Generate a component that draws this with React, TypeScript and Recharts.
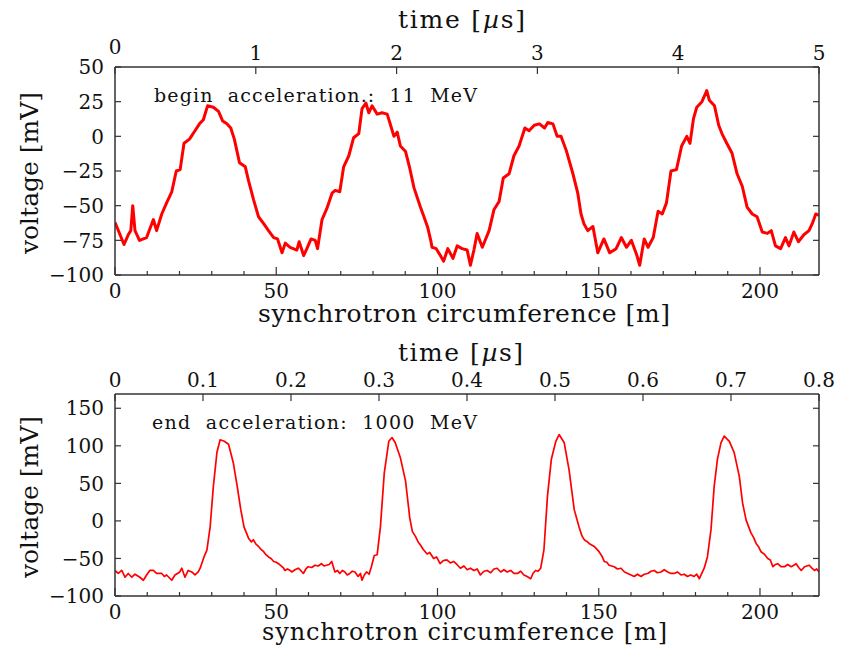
import { LineChart, Line, XAxis, YAxis } from 'recharts';

// begin of acceleration, 11 MeV (position along ring [m], signal [mV])
const BEGIN_M = [
  0, 2.8, 4.1, 4.9, 5.5, 6.2, 7.6, 9.8, 11.9, 12.9, 14.5, 16, 17.6, 19, 20.2, 21.4, 23.1,
  24.8, 26.2, 27.4, 28.7, 30.5, 32.1, 33.4, 34.7, 35.9, 37, 38.6, 40.4, 41.4, 43, 44.5,
  46.1, 47.6, 49.2, 50.4, 51.8, 52.8, 54.3, 56.4, 57.1, 58.5, 59.5, 60.8, 62.1, 62.8,
  64.2, 65.7, 67.3, 68.3, 69.7, 70.9, 72.5, 74, 75.6, 76.6, 77.8, 78.7, 79.7, 81.3, 82.8,
  84.4, 85.2, 86.5, 87.5, 88.5, 90.1, 91.4, 92.7, 94.7, 95.8, 97, 97.9, 98.3, 99.6, 100.9,
  101.9, 103.2, 104.8, 106.1, 107.6, 109.2, 110.2, 111.3, 112.3, 113.9, 116, 117.5,
  119.1, 120.4, 122.2, 123.7, 125.3, 127.1, 128.4, 130, 131.6, 133.2, 134.2, 135.8,
  137.1, 138.3, 139.9, 142, 143.5, 144.5, 145.4, 146.6, 148.2, 149.7, 151.6, 153.4,
  155.4, 157, 158.6, 160.1, 161.7, 162.7, 164.1, 165.3, 166.9, 168.4, 169.7, 171, 172.4,
  174.1, 175.7, 177.3, 178.3, 179.4, 180.4, 182, 183.5, 184.3, 185.9, 187.2, 188.2,
  189.7, 191.3, 192.9, 194.5, 196, 197.6, 199.1, 200.7, 202.3, 203.5, 204.8, 206.4,
  207.9, 209, 210.5, 211.9, 213.6, 215.2, 216.2, 217.3, 218.3,
];
const BEGIN_MV = [
  -62, -78, -71, -68, -50, -68, -75, -73, -60, -68, -56, -48, -40, -25, -24, -5, -2,
  4, 9, 12, 22, 21, 18, 11, 9, 6, -2, -19, -22, -32, -46, -58,
  -63, -68, -73, -74, -84, -77, -80, -82, -76, -86, -81, -74, -75, -81,
  -60, -52, -41, -39, -40, -22, -14, -1, 2, 20, 24, 17, 22, 16, 17,
  16, 10, 0, 3, -7, -11, -23, -37, -51, -58, -66, -75, -80, -81, -86,
  -90, -81, -88, -79, -81, -82, -93, -82, -70, -80, -68, -53,
  -47, -30, -27, -14, -7, 6, 4, 8, 9, 6, 10, 9,
  0, 0, -10, -27, -41, -56, -63, -68, -65, -84, -74, -84,
  -81, -73, -80, -75, -85, -93, -74, -80, -73, -54, -56, -48, -25,
  -24, -7, 0, -5, 13, 21, 25, 33, 26, 22, 8, 2,
  -5, -12, -27, -36, -51, -56, -58, -69, -70, -68, -79, -81,
  -73, -79, -69, -76, -71, -68, -63, -56, -57,
];

// end of acceleration, 1000 MeV
const END_M = [
  0, 1, 2.1, 3.1, 4.1, 5.2, 6.2, 7.7, 8.8, 9.8, 10.8, 11.9, 12.9, 14.5, 15.3, 16, 17.6,
  18.6, 20.1, 20.7, 21.7, 22.7, 23.8, 24.8, 25.8, 26.4, 27.6, 28.5, 29.5, 30.5, 31.6,
  32.6, 33.9, 35.2, 36.7, 37.9, 39, 40, 41.4, 42.3, 42.9, 43.7, 44.5, 45.3, 46.1, 46.8,
  47.6, 48.4, 49.2, 50, 50.7, 51.5, 52.3, 52.7, 53.5, 54.3, 54.8, 55.8, 56.8, 57.6, 58.4,
  59.2, 59.9, 61, 62, 63, 64, 64.8, 65.6, 66.4, 67.2, 68.2, 69, 69.7, 70.5, 71.3, 72,
  72.8, 73.6, 74.4, 75.4, 76.1, 76.6, 77.3, 78, 78.8, 79.5, 80.4, 81.3, 82.3, 83.5, 84.9,
  85.9, 86.9, 88.5, 90.1, 91.4, 92.2, 93.2, 94, 94.7, 95.6, 96.8, 97.6, 98.8, 99.7, 100.8,
  101.8, 102.9, 104, 105, 106, 107.1, 108.2, 109.2, 110.2, 111.3, 112.3, 113.3, 114.4,
  115.4, 116.5, 117.5, 118.5, 119.6, 120.6, 121.6, 122.7, 123.7, 124.8, 125.8, 126.8,
  127.8, 128.9, 129.6, 130.4, 131.2, 132, 133, 134.1, 135.3, 136.7, 137.7, 139.3, 140.8,
  142.4, 143.9, 144.8, 145.5, 146.2, 147, 148.6, 150.1, 151, 151.7, 152.5, 153.2, 154.8,
  155.8, 156.9, 158, 159, 160, 161, 162, 163.1, 164.1, 165.2, 166.2, 167.2, 168.2, 169.3,
  170.3, 171.4, 172.4, 173.4, 174.4, 175.5, 176.5, 177.5, 178.5, 179.6, 180.4, 181.2,
  182.7, 183.7, 184.8, 185.8, 186.8, 187.9, 188.9, 190.5, 192, 193.6, 194.6, 195.7, 197.2,
  198, 198.8, 199.5, 200.3, 201.3, 202.4, 203.2, 204, 204.8, 205.5, 206.5, 207.6, 208.6,
  209.7, 210.5, 211.2, 212, 212.8, 213.8, 215.3, 216.1, 216.9, 217.6, 218.3,
];
const END_MV = [
  -66, -70, -66, -75, -70, -75, -71, -75, -79, -72, -66, -66, -70, -70, -74, -72, -79,
  -72, -68, -63, -75, -66, -68, -72, -68, -63, -48, -39, -8, 46, 91,
  108, 106, 102, 77, 46, 15, -8, -23, -28, -25, -31, -34, -38, -41, -45,
  -48, -50, -54, -55, -57, -60, -63, -66, -64, -66, -68, -65, -63, -66, -70,
  -64, -61, -62, -59, -60, -57, -60, -59, -58, -54, -68, -66, -70, -66, -68, -72,
  -70, -67, -68, -74, -70, -79, -72, -68, -71, -61, -46, -45, -8, 64, 106,
  111, 104, 84, 53, 4, -14, -21, -28, -32, -38, -44, -42, -50, -48, -57,
  -53, -52, -56, -54, -58, -63, -60, -65, -63, -66, -64, -72, -67,
  -66, -69, -64, -63, -68, -65, -68, -66, -70, -70, -67, -72,
  -74, -77, -70, -66, -67, -63, -39, 33, 82, 106, 115, 104, 68,
  15, -8, -20, -25, -27, -30, -34, -41, -47, -54, -55, -59, -61,
  -64, -63, -68, -70, -72, -74, -71, -74, -71, -70, -67, -66, -69, -68,
  -65, -68, -70, -70, -68, -72, -71, -74, -72, -74, -71, -77,
  -63, -48, -12, 46, 82, 104, 113, 106, 91, 59, 24, 1, -16,
  -22, -30, -34, -41, -44, -50, -52, -61, -58, -57, -61, -61, -58,
  -61, -59, -57, -62, -66, -61, -59, -63, -66, -64, -68,
];

const CIRC_MAX = 218.3;
const CIRC_TICKS = [0, 10, 20, 30, 40, 50, 60, 70, 80, 90, 100, 110, 120, 130, 140, 150, 160, 170, 180, 190, 200, 210];
const BEGIN_TIME_TICKS = [0, 1, 2, 3, 4, 5];
const END_TIME_TICKS = [0, 0.1, 0.2, 0.3, 0.4, 0.5, 0.6, 0.7, 0.8];
const BEGIN_VOLT_TICKS = [-100, -75, -50, -25, 0, 25, 50];
const END_VOLT_TICKS = [-100, -50, 0, 50, 100, 150];

const FONT = "'DejaVu Serif', serif";
const AXIS = '#333';
const RED = '#ff0000';

const fmt = (v: number) => (v < 0 ? '\u2212' + Math.abs(v) : String(v));

const tickText = { fontFamily: FONT, fontSize: 20, fill: '#111' };

const CircTick = (props: any) => {
  const { x, y, payload } = props;
  const major = payload.value % 50 === 0;
  return (
    <g>
      <line x1={x} y1={y} x2={x} y2={y - (major ? 8 : 4)} stroke={AXIS} strokeWidth={1.2} />
      {major && (
        <text x={x} y={y + 23} textAnchor="middle" {...tickText}>
          {payload.value}
        </text>
      )}
    </g>
  );
};

const makeTimeTick = (raiseZero: boolean) => (props: any) => {
  const { x, y, payload } = props;
  const lift = raiseZero && payload.value === 0 ? 13 : 7;
  return (
    <g>
      <line x1={x} y1={y} x2={x} y2={y + 7} stroke={AXIS} strokeWidth={1.2} />
      <text x={x} y={y - lift} textAnchor="middle" {...tickText}>
        {payload.value}
      </text>
    </g>
  );
};

const VoltTick = (props: any) => {
  const { x, y, payload } = props;
  return (
    <g>
      <line x1={x} y1={y} x2={x + 6} y2={y} stroke={AXIS} strokeWidth={1.2} />
      <text x={x - 11} y={y} dy="0.36em" textAnchor="end" {...tickText}>
        {fmt(payload.value)}
      </text>
    </g>
  );
};

const RightTick = (props: any) => {
  const { x, y } = props;
  return <line x1={x} y1={y} x2={x - 6} y2={y} stroke={AXIS} strokeWidth={1.2} />;
};

function Panel({
  data,
  height,
  topH,
  bottomH,
  timeMax,
  timeTicks,
  voltDomain,
  voltTicks,
  strokeWidth,
  raiseZero,
}: {
  data: { m: number; v: number }[];
  height: number;
  topH: number;
  bottomH: number;
  timeMax: number;
  timeTicks: number[];
  voltDomain: [number, number];
  voltTicks: number[];
  strokeWidth: number;
  raiseZero: boolean;
}) {
  const axisLine = { stroke: AXIS, strokeWidth: 1.5 };
  return (
    <LineChart width={847} height={height} data={data} margin={{ top: 0, right: 0, bottom: 0, left: 0 }}>
      <XAxis
        xAxisId="circ"
        dataKey="m"
        type="number"
        domain={[0, CIRC_MAX]}
        allowDataOverflow
        ticks={CIRC_TICKS}
        interval={0}
        height={bottomH}
        tickSize={0}
        tickMargin={0}
        tickLine={false}
        axisLine={axisLine}
        tick={CircTick}
      />
      <XAxis
        xAxisId="time"
        orientation="top"
        dataKey="m"
        type="number"
        domain={[0, timeMax]}
        allowDataOverflow
        ticks={timeTicks}
        interval={0}
        height={topH}
        tickSize={0}
        tickMargin={0}
        tickLine={false}
        axisLine={axisLine}
        tick={makeTimeTick(raiseZero)}
      />
      <YAxis
        yAxisId="volt"
        type="number"
        domain={voltDomain}
        allowDataOverflow
        ticks={voltTicks}
        interval={0}
        width={115}
        tickSize={0}
        tickMargin={0}
        tickLine={false}
        axisLine={axisLine}
        tick={VoltTick}
      />
      <YAxis
        yAxisId="mirror"
        orientation="right"
        type="number"
        domain={voltDomain}
        allowDataOverflow
        ticks={voltTicks}
        interval={0}
        width={28}
        tickSize={0}
        tickMargin={0}
        tickLine={false}
        axisLine={axisLine}
        tick={RightTick}
      />
      <Line
        xAxisId="circ"
        yAxisId="volt"
        type="linear"
        dataKey="v"
        stroke={RED}
        strokeWidth={strokeWidth}
        strokeLinejoin="round"
        dot={false}
        isAnimationActive={false}
      />
    </LineChart>
  );
}

export default function App() {
  const beginData = BEGIN_M.map((m, i) => ({ m, v: BEGIN_MV[i] }));
  const endData = END_M.map((m, i) => ({ m, v: END_MV[i] }));
  const title = { fontFamily: FONT, fontSize: 25, fill: '#111' };
  const note = { fontFamily: FONT, fontSize: 19, fill: '#111', wordSpacing: 7 };

  return (
    <div style={{ position: 'absolute', left: 0, top: 0, width: 847, height: 646, background: '#fff' }}>
      <div style={{ position: 'absolute', left: 0, top: 0 }}>
        <Panel
          data={beginData}
          height={330}
          topH={67}
          bottomH={55}
          timeMax={5}
          timeTicks={BEGIN_TIME_TICKS}
          voltDomain={[-100, 50]}
          voltTicks={BEGIN_VOLT_TICKS}
          strokeWidth={3}
          raiseZero
        />
      </div>
      <div style={{ position: 'absolute', left: 0, top: 330 }}>
        <Panel
          data={endData}
          height={316}
          topH={64}
          bottomH={50}
          timeMax={0.8}
          timeTicks={END_TIME_TICKS}
          voltDomain={[-100, 169]}
          voltTicks={END_VOLT_TICKS}
          strokeWidth={1.7}
          raiseZero={false}
        />
      </div>
      <svg
        width={847}
        height={646}
        style={{ position: 'absolute', left: 0, top: 0, pointerEvents: 'none' }}
      >
        <text x={398} y={28} textLength={127} lengthAdjust="spacing" {...title}>
          time [<tspan fontStyle="italic">µ</tspan>s]
        </text>
        <text x={258} y={322} textLength={412} lengthAdjust="spacing" {...title}>
          synchrotron circumference [m]
        </text>
        <text x={38} y={173} transform="rotate(-90 38 173)" textAnchor="middle" {...title}>
          voltage [mV]
        </text>
        <text x={154} y={102} textLength={323} lengthAdjust="spacing" {...note}>
          begin acceleration.: 11 MeV
        </text>

        <text x={398} y={361} textLength={125} lengthAdjust="spacing" {...title}>
          time [<tspan fontStyle="italic">µ</tspan>s]
        </text>
        <text x={262} y={640} textLength={405} lengthAdjust="spacing" {...title} fontSize={24}>
          synchrotron circumference [m]
        </text>
        <text x={38} y={497} transform="rotate(-90 38 497)" textAnchor="middle" {...title}>
          voltage [mV]
        </text>
        <text x={152} y={429} textLength={325} lengthAdjust="spacing" {...note}>
          end acceleration: 1000 MeV
        </text>
      </svg>
    </div>
  );
}
